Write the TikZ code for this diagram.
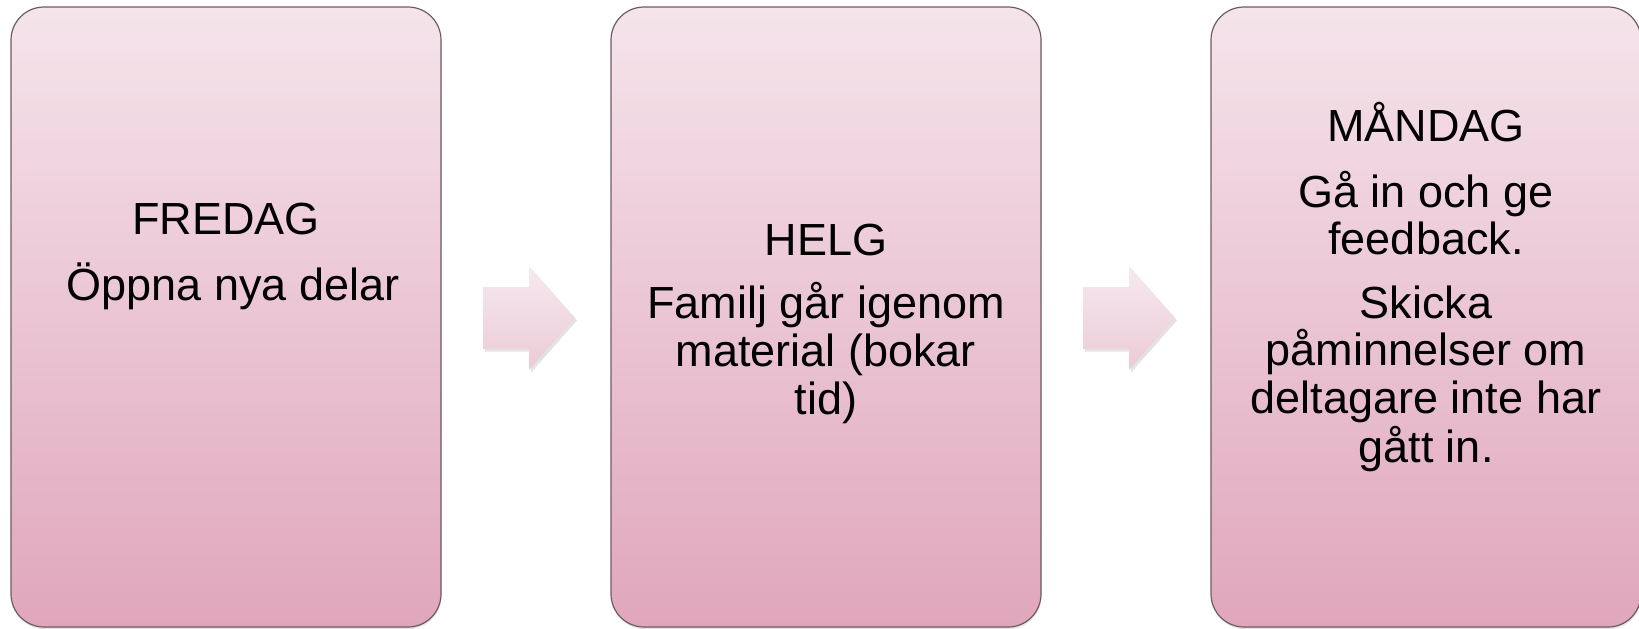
\documentclass[tikz,border=0pt]{standalone}
\usepackage{fontspec}
\setmainfont{Liberation Sans}
\usetikzlibrary{shadows}
\definecolor{boxtop}{HTML}{F5E4EB}
\definecolor{boxbot}{HTML}{E0A6BC}
\definecolor{arrtop}{HTML}{F6E9EF}
\definecolor{arrbot}{HTML}{EBCAD6}
\definecolor{boxline}{HTML}{6E5C64}
\tikzset{
  daybox/.style={rounded corners=33pt, top color=boxtop, bottom color=boxbot, draw=boxline, line width=1.2pt,
    drop shadow={opacity=0.25, shadow xshift=0.5pt, shadow yshift=-2pt}},
  flowarrow/.style={top color=arrtop, bottom color=arrbot, draw=none,
    drop shadow={opacity=0.22, shadow xshift=2pt, shadow yshift=-2.5pt}},
  lbl/.style={font=\fontsize{45}{47}\selectfont, anchor=base, inner sep=0pt, text=black}
}
\begin{document}
\begin{tikzpicture}[x=1pt,y=-1pt]
\useasboundingbox (0,0) rectangle (1639,629);
% boxes
\path[daybox] (11,7) rectangle (441,627);
\path[daybox] (611,7) rectangle (1041,627);
\path[daybox] (1211,7) rectangle (1641,627);
% arrows
\path[flowarrow] (483,287) -- (529,287) -- (529,266) -- (575,318) -- (529,370) -- (529,349) -- (483,349) -- cycle;
\path[flowarrow] (1083,287) -- (1129,287) -- (1129,266) -- (1175,318) -- (1129,370) -- (1129,349) -- (1083,349) -- cycle;
% box 1 text
\node[lbl] (f1) at (226,234) {FREDAG};
\node[lbl] (f2) at (233,300) {Öppna nya delar};
% box 2 text
\node[lbl] (h1) at (826,255) {HELG};
\node[lbl] (h2) at (826,318) {Familj går igenom};
\node[lbl] (h3) at (826,366) {material (bokar};
\node[lbl] (h4) at (826,414) {tid)};
% box 3 text
\node[lbl] (m1) at (1426,141) {MÅNDAG};
\node[lbl] (m2) at (1426,207) {Gå in och ge};
\node[lbl] (m3) at (1426,254) {feedback.};
\node[lbl] (m4) at (1426,318) {Skicka};
\node[lbl] (m5) at (1426,365) {påminnelser om};
\node[lbl] (m6) at (1426,413) {deltagare inte har};
\node[lbl] (m7) at (1426,462) {gått in.};
\end{tikzpicture}
\end{document}
